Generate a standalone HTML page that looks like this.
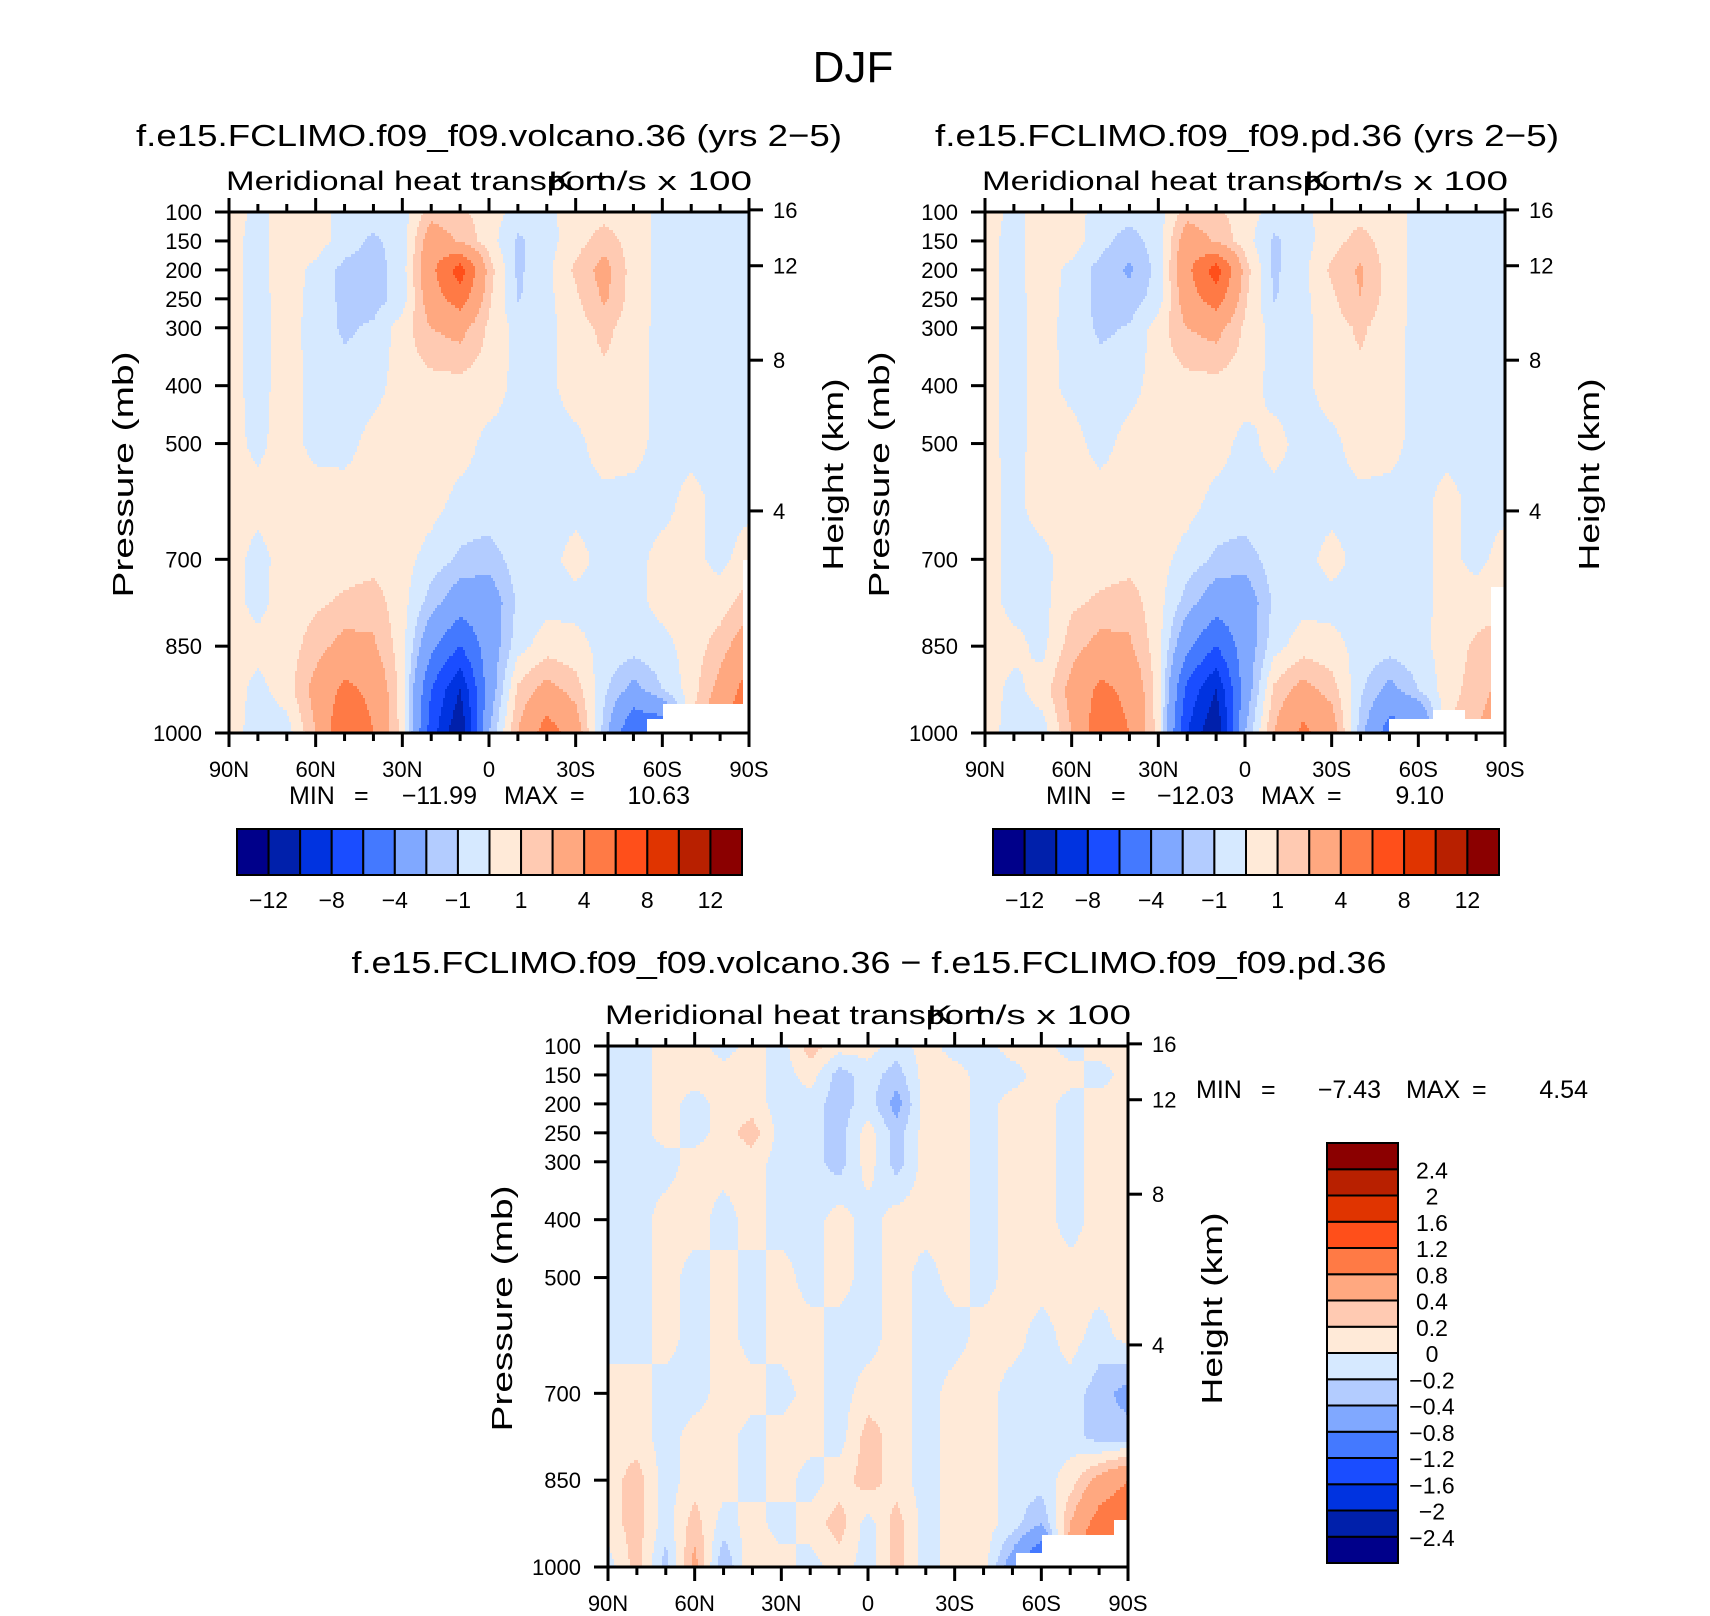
<!DOCTYPE html>
<html><head><meta charset="utf-8"><title>DJF Meridional heat transport</title>
<style>
html,body{margin:0;padding:0;background:#fff;}
svg{display:block;}
text{font-family:"Liberation Sans",sans-serif;fill:#000;}
</style></head>
<body>
<svg id="fig" width="1710" height="1616" viewBox="0 0 1710 1616" xmlns="http://www.w3.org/2000/svg">
<rect width="1710" height="1616" fill="#fff"/>
<text x="853" y="82" font-size="44" text-anchor="middle">DJF</text>
<text x="489" y="146" font-size="31" text-anchor="middle" textLength="706" lengthAdjust="spacingAndGlyphs">f.e15.FCLIMO.f09_f09.volcano.36 (yrs 2−5)</text>
<text x="1247" y="146" font-size="31" text-anchor="middle" textLength="624" lengthAdjust="spacingAndGlyphs">f.e15.FCLIMO.f09_f09.pd.36 (yrs 2−5)</text>
<text x="869" y="973" font-size="31" text-anchor="middle" textLength="1035" lengthAdjust="spacingAndGlyphs">f.e15.FCLIMO.f09_f09.volcano.36 − f.e15.FCLIMO.f09_f09.pd.36</text>
<g id="p1"></g>
<g id="p2"></g>
<g id="p3"></g>
</svg>
<script>
// ---- data ----
const PLEV=[100,150,200,250,300,400,500,600,700,775,850,925,1000];
const LATS=[90,80,70,60,50,40,30,20,10,0,-10,-20,-30,-40,-50,-60,-70,-80,-90];
const GRID1=[
[0.5,-0.3,0.5,0.5,-0.5,-0.5,-0.5,1.5,1.2,0.5,-0.4,-0.3,0.5,0.6,0.5,-0.3,-0.3,-0.3,-0.3],
[0.3,-0.3,0.5,0.5,-0.5,-1.2,-0.5,3,1.8,0.5,-1.2,-0.4,0.6,1.5,0.5,-0.3,-0.3,-0.3,-0.3],
[0.3,-0.3,0.5,-0.3,-1.3,-1.5,-0.5,3.5,7,1.5,-1.2,-0.3,1.2,2.5,0.5,-0.3,-0.3,-0.3,-0.3],
[0.3,-0.3,0.4,-0.3,-1.3,-1.5,-0.5,3,5,1.2,-1.1,-0.3,0.8,2.2,0.5,-0.3,-0.3,-0.3,-0.3],
[0.3,-0.3,0.4,-0.4,-1.2,-0.8,0.5,2,2.5,0.8,-0.3,-0.3,0.5,1.3,0.4,-0.3,-0.3,-0.3,-0.3],
[0.3,-0.3,0.4,-0.3,-0.5,-0.4,0.5,0.6,0.6,0.5,-0.3,-0.3,0.5,0.7,0.4,-0.3,-0.3,-0.3,-0.3],
[0.3,-0.2,0.4,-0.3,-0.4,0.4,0.5,0.5,0.4,-0.3,-0.3,-0.3,-0.3,0.5,0.3,-0.3,-0.3,-0.3,-0.3],
[0.4,0.3,0.5,0.5,0.5,0.5,0.5,0.4,-0.3,-0.3,-0.3,-0.3,-0.3,-0.3,-0.3,-0.3,0.3,-0.3,-0.3],
[0.4,-0.3,0.4,0.5,0.5,0.6,0.4,-0.4,-1.2,-1.5,-0.5,-0.3,0.3,-0.3,-0.3,0.3,0.3,-0.3,0.5],
[0.4,-0.3,0.5,0.8,1.2,1.5,0.4,-1.5,-3,-3,-0.8,-0.3,-0.3,-0.3,-0.3,0.3,0.3,0.5,1.5],
[0.4,0.3,0.5,1.5,2.5,2.2,0.4,-3.5,-6,-3,-0.4,0.5,0.3,-0.3,-0.5,-0.3,0.4,1.5,3],
[0.5,-0.3,0.5,2.5,4.5,3.5,0.5,-6,-10,-3,1.2,2.5,1.5,-0.8,-2.5,-1,0.5,2.5,5],
[0.5,-0.5,-0.5,2,6,4,0.5,-7,-12,-2,2,5,3,-1.5,-6,-6,1,4,6]
];
const GRID2=[
[0.5,-0.3,0.5,0.5,-0.5,-0.5,-0.5,1.5,1.2,0.5,-0.4,-0.3,0.5,0.6,0.5,-0.3,-0.3,-0.3,-0.3],
[0.3,-0.3,0.5,0.5,-0.6,-1.5,-0.5,3,1.8,0.5,-1.2,-0.4,0.6,1.4,0.5,-0.3,-0.3,-0.3,-0.3],
[0.3,-0.3,0.5,-0.3,-1.4,-2.2,-0.6,3.5,7,1.5,-1.2,-0.3,1.2,2.2,0.5,-0.3,-0.3,-0.3,-0.3],
[0.3,-0.3,0.4,-0.3,-1.4,-1.6,-0.5,3,5,1.2,-1.1,-0.3,0.8,2,0.5,-0.3,-0.3,-0.3,-0.3],
[0.3,-0.3,0.4,-0.4,-1.2,-0.9,0.5,2,2.5,0.8,-0.3,-0.3,0.5,1.2,0.4,-0.3,-0.3,-0.3,-0.3],
[0.3,-0.3,0.4,-0.3,-0.5,-0.4,0.5,0.6,0.6,0.5,-0.3,-0.3,0.5,0.7,0.4,-0.3,-0.3,-0.3,-0.3],
[0.3,-0.3,0.4,0.4,-0.4,0.4,0.5,0.5,0.4,-0.3,0.3,-0.3,-0.3,0.5,0.3,-0.3,-0.3,-0.3,-0.3],
[0.4,-0.3,0.5,0.5,0.5,0.5,0.5,0.4,-0.3,-0.3,-0.3,-0.3,-0.3,-0.3,-0.3,-0.3,0.3,-0.3,-0.3],
[0.4,-0.3,-0.3,0.5,0.5,0.6,0.4,-0.4,-1.2,-1.5,-0.5,-0.3,0.3,-0.3,-0.3,-0.3,0.3,-0.3,0.4],
[0.4,-0.3,-0.3,0.8,1.2,1.5,0.4,-1.5,-3,-3,-0.8,-0.3,-0.3,-0.3,-0.3,-0.3,0.3,0.5,0.8],
[0.4,0.3,-0.3,1.5,2.5,2.2,0.4,-3.5,-6,-3,-0.4,0.5,0.3,-0.3,-0.5,-0.3,0.4,1.2,1.5],
[0.5,-0.3,0.5,2.5,4.5,3.5,0.5,-6.5,-10,-3,1.2,2.5,1.5,-0.8,-2.5,-1,0.5,1.5,2.5],
[0.5,-0.5,-0.5,2,5.5,4,0.5,-8,-12,-2,2,4.5,3,-1.5,-5,-5,1,2,3]
];
const GRID3=[
[-0.1,-0.1,0.1,0.1,-0.1,0.1,-0.1,0.3,0.1,0.1,-0.1,0.1,-0.1,-0.1,0.1,0.1,-0.1,0.1,0.1],
[-0.1,-0.1,0.1,0.1,0.1,0.1,-0.1,0.1,-0.3,-0.1,-0.3,0.1,0.1,-0.1,-0.1,0.1,0.1,-0.1,0.1],
[-0.1,-0.1,0.1,-0.1,0.1,0.1,-0.1,-0.1,-0.3,-0.1,-0.5,0.1,0.1,-0.1,0.1,0.1,-0.1,0.1,0.1],
[-0.1,-0.1,0.1,-0.1,0.1,0.3,-0.1,-0.1,-0.3,0.1,-0.3,0.1,0.1,-0.1,0.1,0.1,-0.1,0.1,0.1],
[-0.1,-0.1,-0.1,0.1,0.1,0.1,-0.1,-0.1,-0.3,0.1,-0.3,0.1,0.1,-0.1,0.1,0.1,-0.1,0.1,0.1],
[-0.1,-0.1,0.1,0.1,-0.1,0.1,-0.1,-0.1,0.1,-0.1,0.1,0.1,0.1,-0.1,0.1,0.1,-0.1,0.1,0.1],
[-0.1,-0.1,0.1,-0.1,0.1,-0.1,0.1,-0.1,0.1,-0.1,0.1,-0.1,0.1,-0.1,0.1,0.1,0.1,0.1,0.1],
[-0.1,-0.1,0.1,-0.1,0.1,-0.1,0.1,0.1,-0.1,-0.1,0.1,-0.1,-0.1,0.1,0.1,-0.1,0.1,-0.1,0.1],
[0.1,0.1,-0.1,-0.1,0.1,0.1,-0.1,0.1,-0.1,0.1,0.1,-0.1,0.1,0.1,-0.1,-0.1,-0.1,-0.3,-0.5],
[0.1,0.1,-0.1,0.1,0.1,-0.1,0.1,0.1,-0.1,0.3,0.1,-0.1,0.1,0.1,-0.1,-0.1,-0.1,-0.3,-0.3],
[0.1,0.3,-0.1,0.1,0.1,-0.1,0.1,-0.1,0.1,0.3,0.1,-0.1,0.1,0.1,-0.1,-0.1,0.1,0.5,0.8],
[0.1,0.3,-0.1,0.3,-0.1,0.1,-0.1,0.1,0.3,-0.1,0.3,-0.1,0.1,0.1,-0.1,-0.4,0.4,1,1.2],
[-0.1,0.3,-0.3,0.5,-0.4,0.2,0.1,-0.1,0.1,-0.1,0.3,-0.1,0.1,0.1,-0.6,-1.4,0.6,1.5,1.6]
];
// missing-data regions: [north lat, south lat, pressure below which is missing]
const MISS1=[[-55,-60,977],[-60,-88,952],[-88,-90,700]];
const MISS2=[[-50,-65,975],[-65,-76,958],[-76,-85,975],[-85,-90,750]];
const MISS3=[[-51,-60,975],[-60,-85,945],[-85,-90,920]];
const LEVELS12=[-12,-10,-8,-6,-4,-2,-1,0,1,2,4,6,8,10,12];
const LEVELS3=[-2.4,-2,-1.6,-1.2,-0.8,-0.4,-0.2,0,0.2,0.4,0.8,1.2,1.6,2,2.4];
const COLORS=["#00008a","#0020ab","#0033e0","#1a4dff","#4479ff","#80a8ff","#b3ccff","#d6e9ff","#ffead8","#ffcab2","#ffa880","#ff7a45","#ff4f1a","#e03400","#b82000","#8b0000"];
const P_TICKS=[100,150,200,250,300,400,500,700,850,1000];
const Z_TICKS=[16,12,8,4];
const LAT_TICKS=[90,60,30,0,-30,-60,-90];
const LAT_LABELS=["90N","60N","30N","0","30S","60S","90S"];
const MINMAX1=["−11.99","10.63"];
const MINMAX2=["−12.03","9.10"];
const MINMAX3=["−7.43","4.54"];

const NS="http://www.w3.org/2000/svg";
function mk(tag,attrs,parent){const e=document.createElementNS(NS,tag);for(const k in attrs)e.setAttribute(k,attrs[k]);if(parent)parent.appendChild(e);return e;}

function gridVal(grid,fx,p){
  let r=0;while(r<PLEV.length-2&&p>PLEV[r+1])r++;
  let t=(p-PLEV[r])/(PLEV[r+1]-PLEV[r]);t=Math.max(0,Math.min(1,t));
  let c=Math.floor(fx);if(c>=LATS.length-1)c=LATS.length-2;if(c<0)c=0;
  let s=fx-c;
  const a=grid[r][c]*(1-s)+grid[r][c+1]*s;
  const b=grid[r+1][c]*(1-s)+grid[r+1][c+1]*s;
  return a*(1-t)+b*t;
}
function colorIdx(v,levels){let i=0;while(i<levels.length&&v>=levels[i])i++;return i;}
function isMissing(lat,p,miss){for(const m of miss){if(lat<=m[0]&&lat>=m[1]&&p>=m[2])return true;}return false;}
function pToY(p,y0,h){return y0+(p-100)/900*h;}
function latToX(lat,x0,w){return x0+(90-lat)/180*w;}
function zToP(z){return 1013.25*Math.pow(1-z/44.33,5.256);}

function drawField(g,grid,levels,x0,y0,w,h,miss){
  const fg=mk("g",{"shape-rendering":"crispEdges"},g);
  
  
  const sy=3,sx=2;
  for(let py=0;py<h;py+=sy){
    const p=100+(py+sy/2)/h*900;
    let start=0,cur=null;
    const hh=Math.min(sy,h-py);
    const flush=(end)=>{
      if(cur!==null&&cur>=0){
        const r=mk("rect",{x:x0+start,y:y0+py,width:end-start,height:hh,fill:COLORS[cur]},fg);
        
        
      }
    };
    for(let px=0;px<w;px+=sx){
      const lat=90-(px+sx/2)/w*180;
      const fx=(px+sx/2)/w*(LATS.length-1);
      let ci=isMissing(lat,p,miss)?-1:colorIdx(gridVal(grid,fx,p),levels);
      if(ci!==cur){flush(px);start=px;cur=ci;}
    }
    flush(w);
  }
}

function drawAxes(g,x0,y0,w,h){
  const ax=mk("g",{stroke:"#000","stroke-width":3,fill:"none"},g);
  
  
  mk("rect",{x:x0,y:y0,width:w,height:h},ax);
  mk("line",{x1:x0+w,y1:y0-12,x2:x0+w,y2:y0+h+12},ax);
  for(const p of P_TICKS){
    const y=pToY(p,y0,h);
    mk("line",{x1:x0-14,y1:y,x2:x0,y2:y},ax);
    const t=mk("text",{x:x0-27,y:y+8,"font-size":22,"text-anchor":"end"},g);
    t.textContent=p;
    
    
  }
  for(const z of Z_TICKS){
    const y=pToY(zToP(z),y0,h);
    mk("line",{x1:x0+w,y1:y,x2:x0+w+14,y2:y},ax);
    const t=mk("text",{x:x0+w+24,y:y+8,"font-size":22},g);
    t.textContent=z;
    
    
  }
  for(let lat=90;lat>=-90;lat-=10){
    const x=latToX(lat,x0,w);
    const L=(lat%30===0)?14:8;
    mk("line",{x1:x,y1:y0-L,x2:x,y2:y0},ax);
    mk("line",{x1:x,y1:y0+h,x2:x,y2:y0+h+L},ax);
  }
  LAT_TICKS.forEach((lat,i)=>{
    const t=mk("text",{x:latToX(lat,x0,w),y:y0+h+44,"font-size":22,"text-anchor":"middle"},g);
    t.textContent=LAT_LABELS[i];
    
    
  });
  const yl=mk("text",{x:0,y:0,"font-size":29,"text-anchor":"middle",transform:`translate(${x0-96},${y0+h/2+2}) rotate(-90)`,"textLength":246,"lengthAdjust":"spacingAndGlyphs"},g);
  yl.textContent="Pressure (mb)";
  
  
  const yr=mk("text",{x:0,y:0,"font-size":29,"text-anchor":"middle",transform:`translate(${x0+w+94},${y0+h/2+2}) rotate(-90)`,"textLength":192,"lengthAdjust":"spacingAndGlyphs"},g);
  yr.textContent="Height (km)";
  
  
  const s1=mk("text",{x:x0-3,y:y0-22,"font-size":27,"textLength":380,"lengthAdjust":"spacingAndGlyphs"},g);
  s1.textContent="Meridional heat transport";
  
  
  const s2=mk("text",{x:x0+w+3,y:y0-22,"font-size":27,"text-anchor":"end","textLength":204,"lengthAdjust":"spacingAndGlyphs"},g);
  s2.textContent="K m/s x 100";
  
  
}

// tokens placed at offsets relative to x (MIN, =, value, MAX, =, value right edge)
function drawMinMax(g,x,y,offs,mm){
  const toks=[["MIN",offs[0],"start"],["=",offs[1],"start"],[mm[0],offs[2],"end"],["MAX",offs[3],"start"],["=",offs[4],"start"],[mm[1],offs[5],"end"]];
  toks.forEach(tk=>{
    const t=mk("text",{x:x+tk[1],y:y,"font-size":25,"text-anchor":tk[2]},g);
    t.textContent=tk[0];
    
    
  });
}

function hColorbar(g,x0,y0,w,h,levels){
  const cb=mk("g",{},g);
  
  
  const bw=w/COLORS.length;
  COLORS.forEach((c,i)=>{
    const r=mk("rect",{x:x0+i*bw,y:y0,width:bw,height:h,fill:c,stroke:"#000","stroke-width":2},cb);
    
    
  });
  levels.forEach((v,i)=>{
    if(i%2!==0)return;
    const t=mk("text",{x:x0+(i+1)*bw,y:y0+h+33,"font-size":23,"text-anchor":"middle"},cb);
    t.textContent=(v<0?"−"+(-v):v);
    
    
  });
}
function vColorbar(g,x0,y0,w,h,levels){
  const cb=mk("g",{},g);
  
  
  const n=COLORS.length,bh=h/n;
  COLORS.forEach((c,i)=>{
    const r=mk("rect",{x:x0,y:y0+(n-1-i)*bh,width:w,height:bh,fill:c,stroke:"#000","stroke-width":2},cb);
    
    
  });
  levels.forEach((v,i)=>{
    const y=y0+(n-1-i)*bh;
    const t=mk("text",{x:x0+105,y:y+9,"font-size":23,"text-anchor":"middle"},cb);
    t.textContent=(v<0?"−"+(-v):v);
    
    
  });
}

const g1=document.getElementById("p1"),g2=document.getElementById("p2"),g3=document.getElementById("p3");
drawField(g1,GRID1,LEVELS12,229,212,520,521,MISS1);
drawAxes(g1,229,212,520,521);
drawMinMax(g1,289,804,[0,65,188,215,281,401],MINMAX1);
hColorbar(g1,237,829,505,46,LEVELS12);

drawField(g2,GRID2,LEVELS12,985,212,520,521,MISS2);
drawAxes(g2,985,212,520,521);
drawMinMax(g2,1046,804,[0,65,188,215,281,398],MINMAX2);
hColorbar(g2,993,829,506,46,LEVELS12);

drawField(g3,GRID3,LEVELS3,608,1046,520,521,MISS3);
drawAxes(g3,608,1046,520,521);
drawMinMax(g3,1196,1098,[0,65,185,210,276,392],MINMAX3);
vColorbar(g3,1327,1143,71,420,LEVELS3);
</script>
</body></html>
